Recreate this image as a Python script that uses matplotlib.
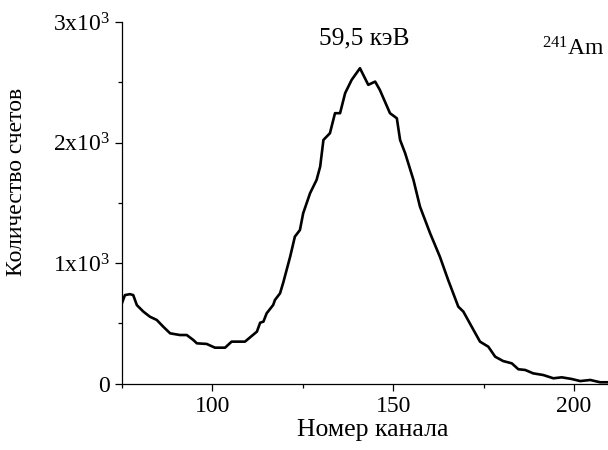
import matplotlib
matplotlib.use("Agg")
import matplotlib.pyplot as plt
from matplotlib.ticker import MultipleLocator, FixedLocator

plt.rcParams['font.family'] = ['Liberation Serif', 'DejaVu Serif']
plt.rcParams['mathtext.fontset'] = 'custom'
plt.rcParams['mathtext.rm'] = 'Liberation Serif'
plt.rcParams['mathtext.default'] = 'regular'

# spectrum
channel = [75.0, 75.8, 77.2, 78.1, 79.1, 80.9, 82.7, 84.6, 86.4, 88.3,
           91.0, 92.9, 94.7, 95.7, 98.4, 100.7, 103.5, 105.3, 109.0, 112.3,
           113.2, 114.1, 115.0, 116.8, 117.3, 118.7, 119.6, 121.5, 122.8, 124.2,
           125.1, 127.0, 128.8, 129.8, 130.7, 132.5, 133.9, 135.3, 136.7, 138.5,
           140.8, 143.1, 145.0, 146.3, 149.1, 151.0, 151.9, 153.3, 155.6, 157.4,
           160.2, 162.9, 165.2, 168.0, 169.4, 171.7, 174.0, 176.3, 178.2, 180.4,
           182.8, 184.6, 186.5, 188.7, 191.5, 194.3, 196.6, 199.4, 201.7, 204.5,
           207.2, 209.4]
counts = [670, 735, 743, 735, 652, 598, 556, 529, 473, 418,
          404, 404, 363, 335, 330, 299, 299, 349, 349, 432,
          506, 515, 584, 653, 695, 750, 840, 1054, 1220, 1275,
          1414, 1580, 1690, 1801, 2022, 2078, 2244, 2244, 2410, 2520,
          2617, 2479, 2506, 2437, 2244, 2202, 2022, 1912, 1690, 1469,
          1248, 1054, 860, 639, 598, 473, 349, 307, 224, 188,
          169, 120, 114, 86, 72, 45, 53, 39, 22, 31,
          12, 12]

y_ticks = [0, 1000, 2000, 3000]
y_labels = ['0', '1x10$^3$', '2x10$^3$', '3x10$^3$']
x_ticks = [100, 150, 200]

fig = plt.figure(figsize=(6.08, 4.5), dpi=100)
ax = fig.add_axes([0.2007, 0.1473, 0.7993, 0.8037])
ax.plot(channel, counts, color='black', linewidth=1.9)

ax.set_xlim(75, 209.4)
ax.set_ylim(0, 3000)
ax.xaxis.set_major_locator(FixedLocator(x_ticks))
ax.xaxis.set_minor_locator(MultipleLocator(25))
ax.yaxis.set_major_locator(FixedLocator(y_ticks))
ax.set_yticklabels(y_labels)
ax.yaxis.set_minor_locator(MultipleLocator(500))

for s in ['top', 'right']:
    ax.spines[s].set_visible(False)
for s in ['left', 'bottom']:
    ax.spines[s].set_linewidth(0.9)
ax.tick_params(which='major', length=5, width=0.9, labelsize=17, pad=4)
ax.tick_params(which='minor', length=3, width=0.9)

ax.set_xlabel('Номер канала', fontsize=18.5, labelpad=1, x=0.516)
ax.set_ylabel('Количество счетов', fontsize=17)
ax.yaxis.set_label_coords(-0.1955, 0.558)

ax.text(142.1, 2863, '59,5 кэВ', fontsize=18.3, ha='center', va='center')
ax.text(208.5, 2780, '$^{241}$Am', fontsize=17, ha='right', va='center')

fig.savefig('out.png', dpi=100)
